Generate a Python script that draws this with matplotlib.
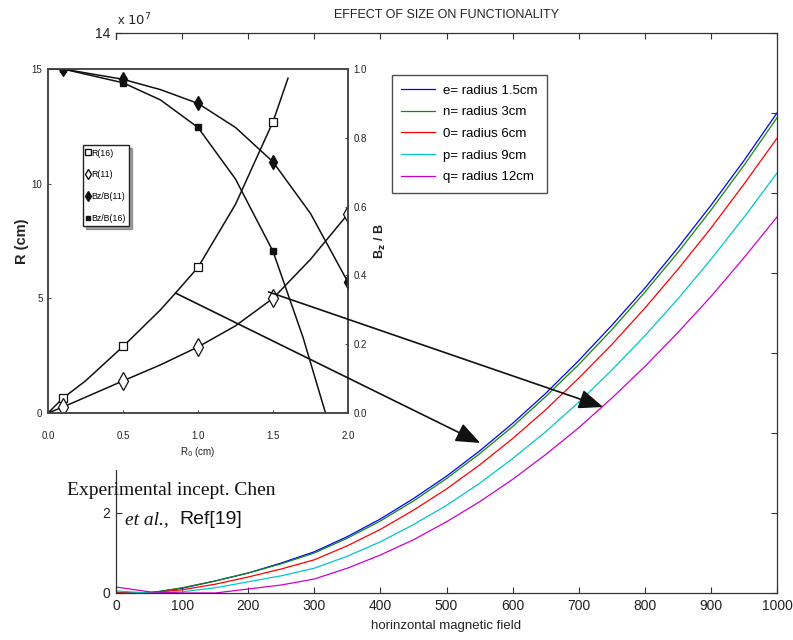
import matplotlib
matplotlib.use('Agg')
import matplotlib.pyplot as plt
from matplotlib.patches import Rectangle, ConnectionPatch
from matplotlib.lines import Line2D

plt.rcParams['font.family'] = ['Liberation Sans', 'DejaVu Sans']

# ---------------- main chart data (values in units of 1e7) ----------------
field = [0, 50, 100, 150, 200, 250, 300, 350, 400, 450, 500,
         550, 600, 650, 700, 750, 800, 850, 900, 950, 1000]
r_15 = [0, 0, 0.12, 0.30, 0.50, 0.75, 1.03, 1.41, 1.85, 2.36, 2.92,
        3.55, 4.24, 4.99, 5.81, 6.69, 7.62, 8.63, 9.69, 10.81, 12.00]
r_3 = [0, 0, 0.13, 0.30, 0.50, 0.73, 1.00, 1.37, 1.80, 2.30, 2.86,
       3.48, 4.16, 4.91, 5.71, 6.58, 7.52, 8.51, 9.57, 10.69, 11.88]
r_6 = [0, 0, 0.08, 0.22, 0.40, 0.60, 0.83, 1.18, 1.59, 2.07, 2.60,
       3.20, 3.86, 4.58, 5.37, 6.21, 7.12, 8.09, 9.12, 10.22, 11.37]
r_9 = [0.05, 0, 0.03, 0.13, 0.28, 0.43, 0.62, 0.92, 1.28, 1.71, 2.19,
       2.74, 3.36, 4.03, 4.77, 5.57, 6.43, 7.35, 8.34, 9.39, 10.50]
r_12 = [0.15, 0.03, 0.0, 0.0, 0.10, 0.20, 0.35, 0.62, 0.95, 1.33, 1.78,
        2.28, 2.84, 3.46, 4.13, 4.87, 5.66, 6.51, 7.41, 8.38, 9.40]
series_labels = ['e= radius 1.5cm', 'n= radius 3cm', '0= radius 6cm',
                 'p= radius 9cm', 'q= radius 12cm']
series_colors = ['#0000ff', '#118811', '#ff0000', '#00c8c8', '#cc00cc']
x_ticks = [0, 100, 200, 300, 400, 500, 600, 700, 800, 900, 1000]
y_ticks = [0, 2, 4, 6, 8, 10, 12, 14]
# labels 4..12 are covered by the pasted inset figure in the reference
y_tick_labels = ['0', '2', '', '', '', '', '', '14']

# ---------------- inset (Chen et al.) data ----------------
r0_r16 = [0, 0.1, 0.25, 0.5, 0.75, 0.85, 1.0, 1.25, 1.5, 1.6]
val_r16 = [0, 0.65, 1.4, 2.9, 4.5, 5.23, 6.35, 9.1, 12.7, 14.6]
r0_r16_pts = [0.1, 0.5, 1.0, 1.5]
val_r16_pts = [0.65, 2.9, 6.35, 12.7]

r0_r11 = [0, 0.1, 0.5, 0.75, 1.0, 1.25, 1.5, 1.75, 2.0]
val_r11 = [0, 0.26, 1.4, 2.1, 2.88, 3.8, 5.0, 6.7, 8.68]
r0_r11_pts = [0.1, 0.5, 1.0, 1.5, 2.0]
val_r11_pts = [0.26, 1.4, 2.88, 5.0, 8.68]

r0_b11 = [0, 0.1, 0.5, 0.75, 1.0, 1.25, 1.5, 1.75, 2.0]
val_b11 = [1.0, 1.0, 0.97, 0.94, 0.90, 0.83, 0.73, 0.58, 0.38]
r0_b11_pts = [0.1, 0.5, 1.0, 1.5, 2.0]
val_b11_pts = [1.0, 0.97, 0.90, 0.73, 0.38]

r0_b16 = [0, 0.1, 0.5, 0.75, 1.0, 1.25, 1.5, 1.7, 1.85, 1.87]
val_b16 = [1.0, 1.0, 0.96, 0.91, 0.83, 0.68, 0.47, 0.22, 0.0, -0.02]
r0_b16_pts = [0.1, 0.5, 1.0, 1.5]
val_b16_pts = [1.0, 0.96, 0.83, 0.47]

inset_labels = ['R(16)', 'R(11)', 'Bz/B(11)', 'Bz/B(16)']
inset_x_ticks = [0.0, 0.5, 1.0, 1.5, 2.0]
inset_yl_ticks = [0, 5, 10, 15]
inset_yr_ticks = [0.0, 0.2, 0.4, 0.6, 0.8, 1.0]

# arrows: (inset R0, inset R) -> (main field, main value)
arrow_1 = ((0.85, 5.23), (551, 3.75))
arrow_2 = ((1.47, 5.28), (737, 4.65))

W, H = 793, 640
fig = plt.figure(figsize=(W / 100, H / 100), dpi=100)

# ---------------- main axes ----------------
ax = fig.add_axes([116 / W, 1 - 593 / H, 661 / W, 560 / H], zorder=0)
for vals, c, lab in zip([r_15, r_3, r_6, r_9, r_12], series_colors, series_labels):
    ax.plot(field, vals, color=c, lw=0.9, label=lab)
ax.set_xlim(0, 1000)
ax.set_ylim(0, 14)
ax.set_xticks(x_ticks)
ax.set_yticks(y_ticks)
ax.set_yticklabels(y_tick_labels)
ax.tick_params(direction='in', length=4, top=True, right=True, labelsize=10,
               color='#333333', labelcolor='#222222', pad=4)
for s in ax.spines.values():
    s.set_color('#333333')
    s.set_linewidth(0.9)
ax.set_xlabel('horinzontal magnetic field', fontsize=9.5, labelpad=5, color='#222222')
ax.set_title('EFFECT OF SIZE ON FUNCTIONALITY', fontsize=9, pad=11, color='#222222')
ax.text(0.002, 1.008, r'x $10^{7}$', transform=ax.transAxes, fontsize=9.5,
        ha='left', va='bottom', color='#222222')
leg = ax.legend(loc='upper left', bbox_to_anchor=(0.4175, 0.925), borderaxespad=0,
                fontsize=9.5, frameon=True, fancybox=False, handlelength=2.55,
                labelspacing=0.71, borderpad=0.72, handletextpad=0.6)
leg.get_frame().set_edgecolor('#222222')
leg.get_frame().set_linewidth(1.0)

# white background for pasted inset figure
fig.add_artist(Rectangle((0, 1 - 470 / H), 385 / W, 430 / H, transform=fig.transFigure,
                         facecolor='white', edgecolor='none', zorder=1))

# ---------------- inset axes ----------------
ax_in = fig.add_axes([48 / W, 1 - 413 / H, 300 / W, 344 / H], zorder=2)
ax_in2 = ax_in.twinx()
ax_in2.set_zorder(3)
ax_in2.patch.set_visible(False)

lk = dict(color='#111111', lw=1.1)
ax_in.plot(r0_r16, val_r16, **lk)
ax_in.plot(r0_r16_pts, val_r16_pts, ls='none', marker='s', ms=5.5, mfc='white', mec='#111111', mew=0.9)
ax_in.plot(r0_r11, val_r11, **lk)
ax_in.plot(r0_r11_pts, val_r11_pts, ls='none', marker='d', ms=9, mfc='white', mec='#111111', mew=0.9)
ax_in2.plot(r0_b11, val_b11, **lk)
ax_in2.plot(r0_b11_pts, val_b11_pts, ls='none', marker='d', ms=7, mfc='#111111', mec='#111111')
ax_in2.plot(r0_b16, val_b16, **lk)
ax_in2.plot(r0_b16_pts, val_b16_pts, ls='none', marker='s', ms=4, mfc='#111111', mec='#111111')

ax_in.set_xlim(0, 2)
ax_in.set_ylim(0, 15)
ax_in2.set_ylim(0, 1)
ax_in.set_xticks(inset_x_ticks)
ax_in.set_xticklabels(['%.1f' % v for v in inset_x_ticks])
ax_in.set_yticks(inset_yl_ticks)
ax_in2.set_yticks(inset_yr_ticks)
ax_in2.set_yticklabels(['%.1f' % v for v in inset_yr_ticks])
for a in (ax_in, ax_in2):
    a.tick_params(direction='in', length=2, labelsize=7, color='#555555',
                  labelcolor='#222222', pad=4)
    for s in a.spines.values():
        s.set_color('#444444')
        s.set_linewidth(1.1)
ax_in.tick_params(axis='x', pad=13)
ax_in.set_ylabel('R (cm)', fontsize=10.5, fontweight='bold', labelpad=2, color='#222222')
ax_in2.set_ylabel(r'B$_\mathbf{z}$ / B', fontsize=9, fontweight='bold', labelpad=4, color='#222222')
ax_in.set_xlabel(r'R$_0$ (cm)', fontsize=7, labelpad=3, color='#222222')

ih = [Line2D([], [], ls='none', marker='s', ms=5, mfc='white', mec='#111111'),
      Line2D([], [], ls='none', marker='d', ms=5, mfc='white', mec='#111111'),
      Line2D([], [], ls='none', marker='d', ms=5, mfc='#111111', mec='#111111'),
      Line2D([], [], ls='none', marker='s', ms=3.5, mfc='#111111', mec='#111111')]
ileg = ax_in2.legend(ih, inset_labels, loc='upper left', bbox_to_anchor=(0.117, 0.779),
                     borderaxespad=0, fontsize=6.3, fancybox=False, shadow=True,
                     handlelength=0.4, handletextpad=0.1, labelspacing=1.45,
                     borderpad=0.4, framealpha=1)
ileg.get_frame().set_edgecolor('#222222')

# ---------------- arrows from inset to main curves ----------------
for (pa, pb) in (arrow_1, arrow_2):
    con = ConnectionPatch(xyA=pa, coordsA=ax_in.transData, xyB=pb, coordsB=ax.transData,
                          arrowstyle='-|>,head_length=0.75,head_width=0.3',
                          mutation_scale=20, color='#111111', lw=1.2, zorder=6)
    fig.add_artist(con)

# ---------------- annotation text ----------------
fig.text(67 / W, 1 - 495 / H, 'Experimental incept. Chen', fontsize=14,
         family=['Liberation Serif', 'DejaVu Serif'], ha='left', va='baseline', color='#111111')
fig.text(125 / W, 1 - 524 / H, 'et al.,', fontsize=14, style='italic',
         family=['Liberation Serif', 'DejaVu Serif'], ha='left', va='baseline', color='#111111')
fig.text(179 / W, 1 - 524 / H, 'Ref[19]', fontsize=14, ha='left', va='baseline', color='#111111')

fig.savefig('out.png', dpi=100)
